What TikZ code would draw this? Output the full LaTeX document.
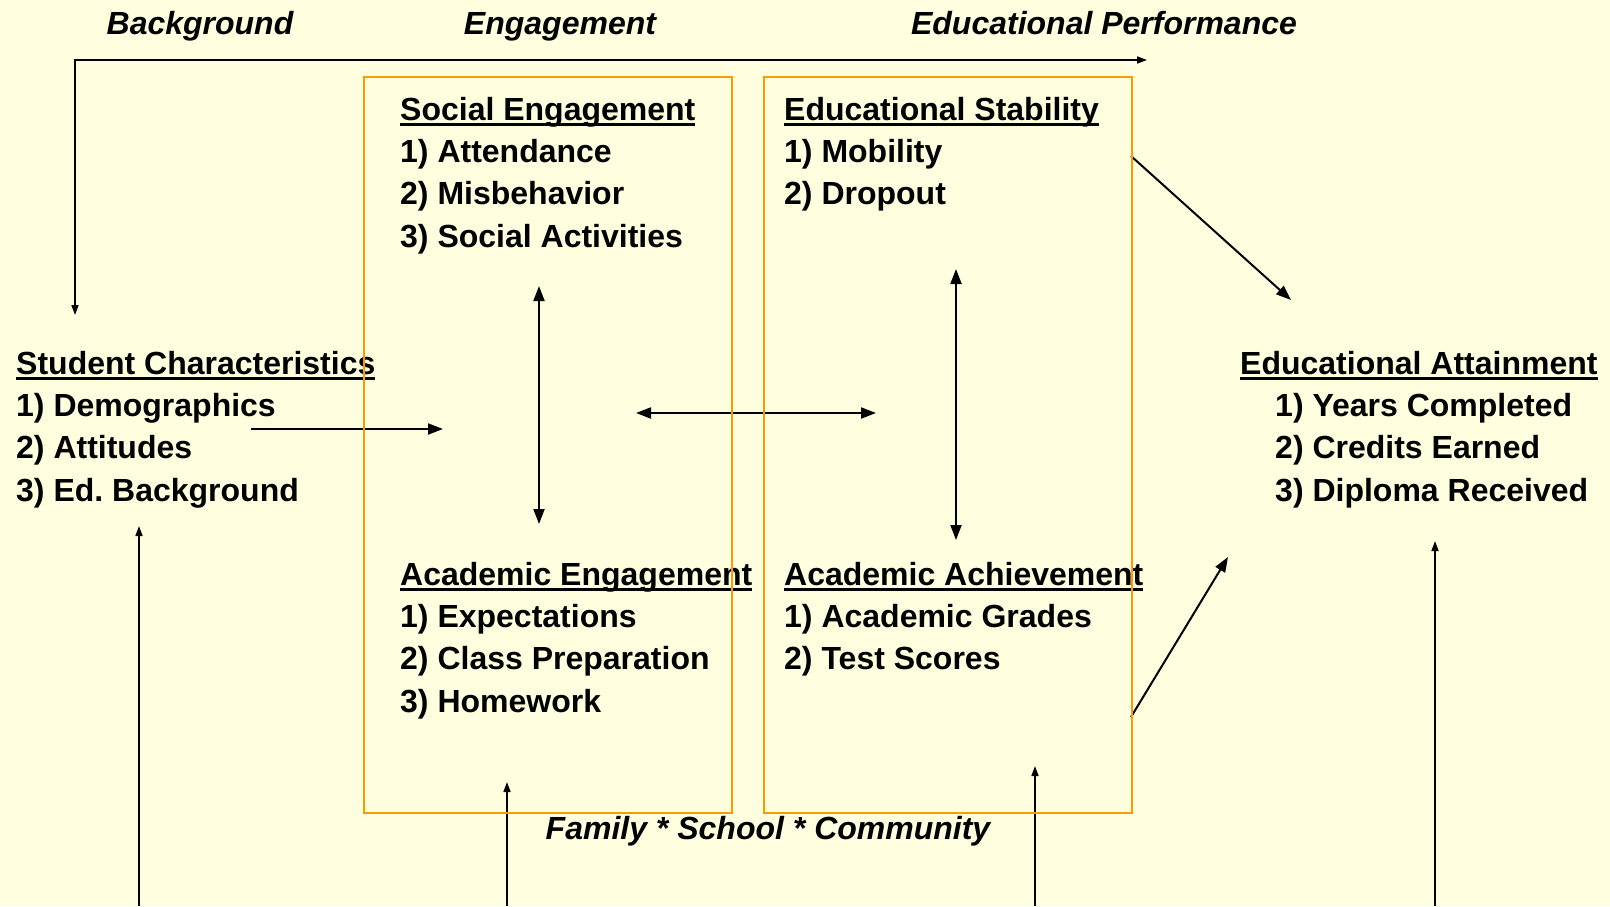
\documentclass[tikz,border=0pt]{standalone}
\usepackage{fontspec}
\setmainfont{Liberation Sans}
\usetikzlibrary{arrows.meta}
\definecolor{bgyellow}{RGB}{255,255,224}
\definecolor{borange}{RGB}{255,153,0}
\newcommand{\hdline}[1]{\setbox0\hbox{#1}\rlap{\rule[-6pt]{\wd0}{3pt}}\box0}
\tikzset{txt/.style = {anchor=base west, inner sep=0pt,
                       font=\bfseries\fontsize{32}{38}\selectfont}}
\tikzset{ttl/.style = {anchor=base, inner sep=0pt,
                       font=\bfseries\itshape\fontsize{32}{38}\selectfont}}
\tikzset{box/.style = {draw=borange, line width=2pt}}
\tikzset{link/.style = {line width=2pt, -{Triangle[length=15pt, width=11pt]}}}
\tikzset{both/.style = {line width=2pt, {Triangle[length=15pt, width=11pt]}-{Triangle[length=15pt, width=11pt]}}}
\tikzset{thin/.style = {line width=1.6pt, -{Triangle[length=10pt, width=7pt]}}}

\begin{document}
\begin{tikzpicture}[x=1pt, y=-1pt]
    \useasboundingbox [fill=bgyellow] (0, 0) rectangle (1610, 906);

    % column titles
    \node [ttl] (tback) at (200, 34) {Background};
    \node [ttl] (teng) at (560, 34) {Engagement};
    \node [ttl] (tperf) at (1104, 34) {Educational Performance};
    \node [ttl] (tfsc) at (768, 839) {Family * School * Community};

    % blocks
    \node [txt] (stud) at (16, 374) {\hdline{Student Characteristics}};
    \foreach \t [count=\i] in {1) Demographics, 2) Attitudes, 3) Ed.\ Background}
        \node [txt] (stud\i) at (16, {374 + 42.4*\i}) {\t};

    \node [txt] (soc) at (400, 120) {\hdline{Social Engagement}};
    \foreach \t [count=\i] in {1) Attendance, 2) Misbehavior, 3) Social Activities}
        \node [txt] (soc\i) at (400, {120 + 42.4*\i}) {\t};

    \node [txt] (aeng) at (400, 585) {\hdline{Academic Engagement}};
    \foreach \t [count=\i] in {1) Expectations, 2) Class Preparation, 3) Homework}
        \node [txt] (aeng\i) at (400, {585 + 42.4*\i}) {\t};

    \node [txt] (stab) at (784, 120) {\hdline{Educational Stability}};
    \foreach \t [count=\i] in {1) Mobility, 2) Dropout}
        \node [txt] (stab\i) at (784, {120 + 42.4*\i}) {\t};

    \node [txt] (ach) at (784, 585) {\hdline{Academic Achievement}};
    \foreach \t [count=\i] in {1) Academic Grades, 2) Test Scores}
        \node [txt] (ach\i) at (784, {585 + 42.4*\i}) {\t};

    \node [txt] (att) at (1240, 374) {\hdline{Educational Attainment}};
    \foreach \t [count=\i] in {1) Years Completed, 2) Credits Earned, 3) Diploma Received}
        \node [txt] (att\i) at (1275, {374 + 42.4*\i}) {\t};

    % connector ends
    \coordinate (bgdown) at (75, 315);
    \coordinate (bgcorner) at (75, 60);
    \coordinate (perfend) at (1147, 60);
    \coordinate (studout) at (251, 429);
    \coordinate (studin) at (443, 429);
    \coordinate (engmid) at (636, 413);
    \coordinate (perfmid) at (876, 413);
    \coordinate (socdown) at (539, 286);
    \coordinate (aengup) at (539, 524);
    \coordinate (stabdown) at (956, 269);
    \coordinate (achup) at (956, 540);
    \coordinate (stabout) at (1131, 156);
    \coordinate (attin1) at (1291, 300);
    \coordinate (achout) at (1131, 717);
    \coordinate (attin2) at (1228, 557);
    \foreach \x/\y [count=\i] in {139/526, 507/782, 1035/766, 1435/541} {
        \coordinate (env\i) at (\x, 906);
        \coordinate (envin\i) at (\x, \y);
    }

    % connectors
    \draw [line width=1.6pt, {Triangle[length=10pt, width=7pt]}-{Triangle[length=10pt, width=7pt]}]
        (bgdown) -- (bgcorner) -- (perfend);
    \draw [link] (studout) -- (studin);
    \draw [both] (engmid) -- (perfmid);
    \draw [both] (socdown) -- (aengup);
    \draw [both] (stabdown) -- (achup);
    \draw [link] (stabout) -- (attin1);
    \draw [link] (achout) -- (attin2);
    \foreach \i in {1, ..., 4}
        \draw [thin] (env\i) -- (envin\i);

    % boxes
    \draw [box] (364, 77) rectangle (732, 813);
    \draw [box] (764, 77) rectangle (1132, 813);
\end{tikzpicture}
\end{document}
